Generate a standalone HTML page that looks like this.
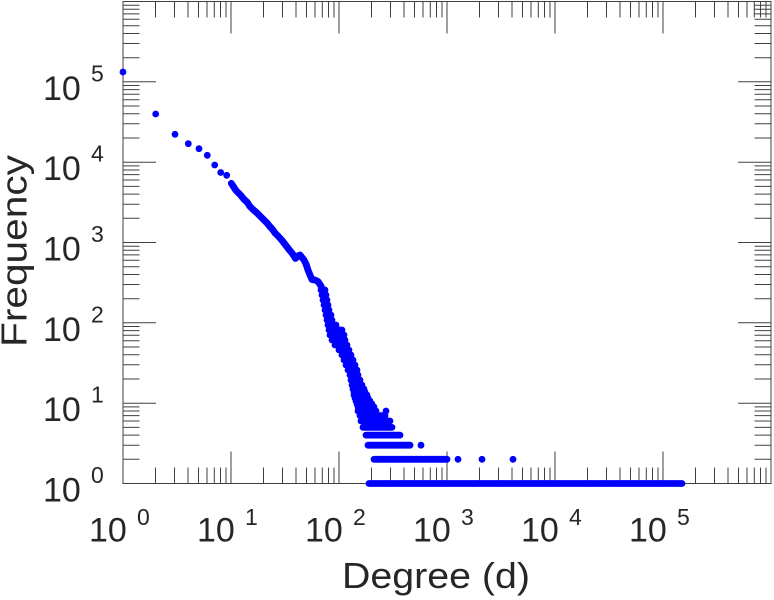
<!DOCTYPE html>
<html><head><meta charset="utf-8"><style>
html,body{margin:0;padding:0;background:#fff;}
svg{display:block;}
text{font-family:"Liberation Sans",Arial,sans-serif;fill:#262626;}
</style></head><body>
<svg width="774" height="600" viewBox="0 0 774 600" xmlns="http://www.w3.org/2000/svg">
<rect width="774" height="600" fill="#fff"/>
<!-- frame -->
<rect x="123" y="1.5" width="648" height="482" fill="none" stroke="#404040" stroke-width="1"/>
<!-- ticks -->
<g stroke="#404040" stroke-width="1" fill="none">
<!-- bottom minor -->
<path d="M155.5 483.5v-16M174.5 483.5v-16M188 483.5v-16M198.5 483.5v-16M207 483.5v-16M214.3 483.5v-16M220.5 483.5v-16M226 483.5v-16
M263.5 483.5v-16M282.5 483.5v-16M296 483.5v-16M306.5 483.5v-16M315 483.5v-16M322.3 483.5v-16M328.5 483.5v-16M334 483.5v-16
M371.5 483.5v-16M390.5 483.5v-16M404 483.5v-16M414.5 483.5v-16M423 483.5v-16M430.3 483.5v-16M436.5 483.5v-16M442 483.5v-16
M479.5 483.5v-16M498.5 483.5v-16M512 483.5v-16M522.5 483.5v-16M531 483.5v-16M538.3 483.5v-16M544.5 483.5v-16M550 483.5v-16
M587.5 483.5v-16M606.5 483.5v-16M620 483.5v-16M630.5 483.5v-16M639 483.5v-16M646.3 483.5v-16M652.5 483.5v-16M658 483.5v-16
M695.5 483.5v-16M714.5 483.5v-16M728 483.5v-16M738.5 483.5v-16M747 483.5v-16M754.3 483.5v-16M760.5 483.5v-16M766 483.5v-16"/>
<!-- bottom major -->
<path d="M231 483.5v-32M339 483.5v-32M447 483.5v-32M555 483.5v-32M663 483.5v-32"/>
<!-- top minor -->
<path d="M155.5 1.5v16M174.5 1.5v16M188 1.5v16M198.5 1.5v16M207 1.5v16M214.3 1.5v16M220.5 1.5v16M226 1.5v16
M263.5 1.5v16M282.5 1.5v16M296 1.5v16M306.5 1.5v16M315 1.5v16M322.3 1.5v16M328.5 1.5v16M334 1.5v16
M371.5 1.5v16M390.5 1.5v16M404 1.5v16M414.5 1.5v16M423 1.5v16M430.3 1.5v16M436.5 1.5v16M442 1.5v16
M479.5 1.5v16M498.5 1.5v16M512 1.5v16M522.5 1.5v16M531 1.5v16M538.3 1.5v16M544.5 1.5v16M550 1.5v16
M587.5 1.5v16M606.5 1.5v16M620 1.5v16M630.5 1.5v16M639 1.5v16M646.3 1.5v16M652.5 1.5v16M658 1.5v16
M695.5 1.5v16M714.5 1.5v16M728 1.5v16M738.5 1.5v16M747 1.5v16M754.3 1.5v16M760.5 1.5v16M766 1.5v16"/>
<path d="M231 1.5v32M339 1.5v32M447 1.5v32M555 1.5v32M663 1.5v32"/>
<!-- left minor -->
<path d="M123 459.3h16.5M123 445.2h16.5M123 435.1h16.5M123 427.4h16.5M123 421h16.5M123 415.6h16.5M123 411h16.5M123 406.9h16.5
M123 379h16.5M123 364.8h16.5M123 354.8h16.5M123 347h16.5M123 340.7h16.5M123 335.3h16.5M123 330.6h16.5M123 326.5h16.5
M123 298.7h16.5M123 284.5h16.5M123 274.5h16.5M123 266.7h16.5M123 260.3h16.5M123 254.9h16.5M123 250.3h16.5M123 246.2h16.5
M123 218.3h16.5M123 204.2h16.5M123 194.1h16.5M123 186.4h16.5M123 180h16.5M123 174.6h16.5M123 170h16.5M123 165.9h16.5
M123 138h16.5M123 123.8h16.5M123 113.8h16.5M123 106h16.5M123 99.7h16.5M123 94.3h16.5M123 89.6h16.5M123 85.5h16.5
M123 57.7h16.5M123 43.5h16.5M123 33.5h16.5M123 25.7h16.5M123 19.3h16.5M123 13.9h16.5M123 9.3h16.5M123 5.2h16.5"/>
<path d="M123 403.2h33M123 322.8h33M123 242.5h33M123 162.2h33M123 81.8h33"/>
<!-- right minor -->
<path d="M771 459.3h-16.5M771 445.2h-16.5M771 435.1h-16.5M771 427.4h-16.5M771 421h-16.5M771 415.6h-16.5M771 411h-16.5M771 406.9h-16.5
M771 379h-16.5M771 364.8h-16.5M771 354.8h-16.5M771 347h-16.5M771 340.7h-16.5M771 335.3h-16.5M771 330.6h-16.5M771 326.5h-16.5
M771 298.7h-16.5M771 284.5h-16.5M771 274.5h-16.5M771 266.7h-16.5M771 260.3h-16.5M771 254.9h-16.5M771 250.3h-16.5M771 246.2h-16.5
M771 218.3h-16.5M771 204.2h-16.5M771 194.1h-16.5M771 186.4h-16.5M771 180h-16.5M771 174.6h-16.5M771 170h-16.5M771 165.9h-16.5
M771 138h-16.5M771 123.8h-16.5M771 113.8h-16.5M771 106h-16.5M771 99.7h-16.5M771 94.3h-16.5M771 89.6h-16.5M771 85.5h-16.5
M771 57.7h-16.5M771 43.5h-16.5M771 33.5h-16.5M771 25.7h-16.5M771 19.3h-16.5M771 13.9h-16.5M771 9.3h-16.5M771 5.2h-16.5"/>
<path d="M771 403.2h-33M771 322.8h-33M771 242.5h-33M771 162.2h-33M771 81.8h-33"/>
</g>

<!-- data -->
<g fill="#0000ff">
<circle cx="123" cy="72" r="3.4"/>
<circle cx="155.7" cy="114" r="3.4"/>
<circle cx="175" cy="134.3" r="3.4"/>
<circle cx="188.3" cy="143.7" r="3.4"/>
<circle cx="199" cy="148.7" r="3.4"/>
<circle cx="207.3" cy="155.3" r="3.4"/>
<circle cx="214.7" cy="165" r="3.4"/>
<circle cx="220.7" cy="172.5" r="3.4"/>
<circle cx="226.7" cy="175.3" r="3.4"/>
<circle cx="386" cy="411" r="3.4"/>
<circle cx="421" cy="445.2" r="3.4"/>
<circle cx="458" cy="459.3" r="3.4"/>
<circle cx="482" cy="459.3" r="3.4"/>
<circle cx="513" cy="459.3" r="3.4"/>
</g>
<g stroke="#0000ff" stroke-width="6.8" stroke-linecap="round" stroke-linejoin="round" fill="none">
<polyline points="231.3,183.3 236,190.5 240,194.5 244,199.3 247,202 250,206.5 253,209.5 256.7,212.7 260,216 263.3,219.3 267,223 270,226.7 273,230 275,233 278,236 281.7,240 284,243 286.7,246.5 289,249.5 291.7,252.7 294,256 295.5,258.5 297.5,256 300,255 302,257.5 304,260 306,264 308,270 310,275 312,279.5 315,280 318,281.5 321,286 323,292 324,299 325,305 327,312 329,317"/>
<path d="M321 290H325M322 295H326M323 300H327M324 305H328M325 310H329M326 315H331M327 320H332M328 325H336M329 330H342M330 335H344M332 340H345M335 345H347M339 350H349M342 355H351M344 360H353M346 365H355M348 370H357M350 375H358M351 380H360M352 385H362M353 389H364M354 392H365M354 395H367M355 398H368M356 401H370M357 404H372M358 407H374M358 411H376M360 415.6H385M361 421H390M363 427.4H392M366 435.1H400M368 445.2H410M374 459.3H447M369 483.5H682"/>
</g>

<!-- y tick labels -->
<g font-size="34">
<text x="43" y="501.5">10</text>
<text x="43" y="421.2">10</text>
<text x="43" y="340.8">10</text>
<text x="43" y="260.5">10</text>
<text x="43" y="180.2">10</text>
<text x="43" y="99.8">10</text>
</g>
<g font-size="23">
<text x="91" y="483">0</text>
<text x="91" y="402.7">1</text>
<text x="91" y="322.3">2</text>
<text x="91" y="242">3</text>
<text x="91" y="161.7">4</text>
<text x="91" y="81.3">5</text>
</g>
<!-- x tick labels -->
<g font-size="34">
<text x="89" y="541.7">10</text>
<text x="197" y="541.7">10</text>
<text x="305" y="541.7">10</text>
<text x="413" y="541.7">10</text>
<text x="521" y="541.7">10</text>
<text x="629" y="541.7">10</text>
</g>
<g font-size="23">
<text x="137" y="525">0</text>
<text x="245" y="525">1</text>
<text x="353" y="525">2</text>
<text x="461" y="525">3</text>
<text x="569" y="525">4</text>
<text x="677" y="525">5</text>
</g>
<!-- axis labels -->
<text x="436" y="588" font-size="36" text-anchor="middle" textLength="188" lengthAdjust="spacingAndGlyphs">Degree (d)</text>
<text transform="translate(26.5,251) rotate(-90)" x="0" y="0" font-size="36" text-anchor="middle" textLength="192" lengthAdjust="spacingAndGlyphs">Frequency</text>
</svg>
</body></html>
